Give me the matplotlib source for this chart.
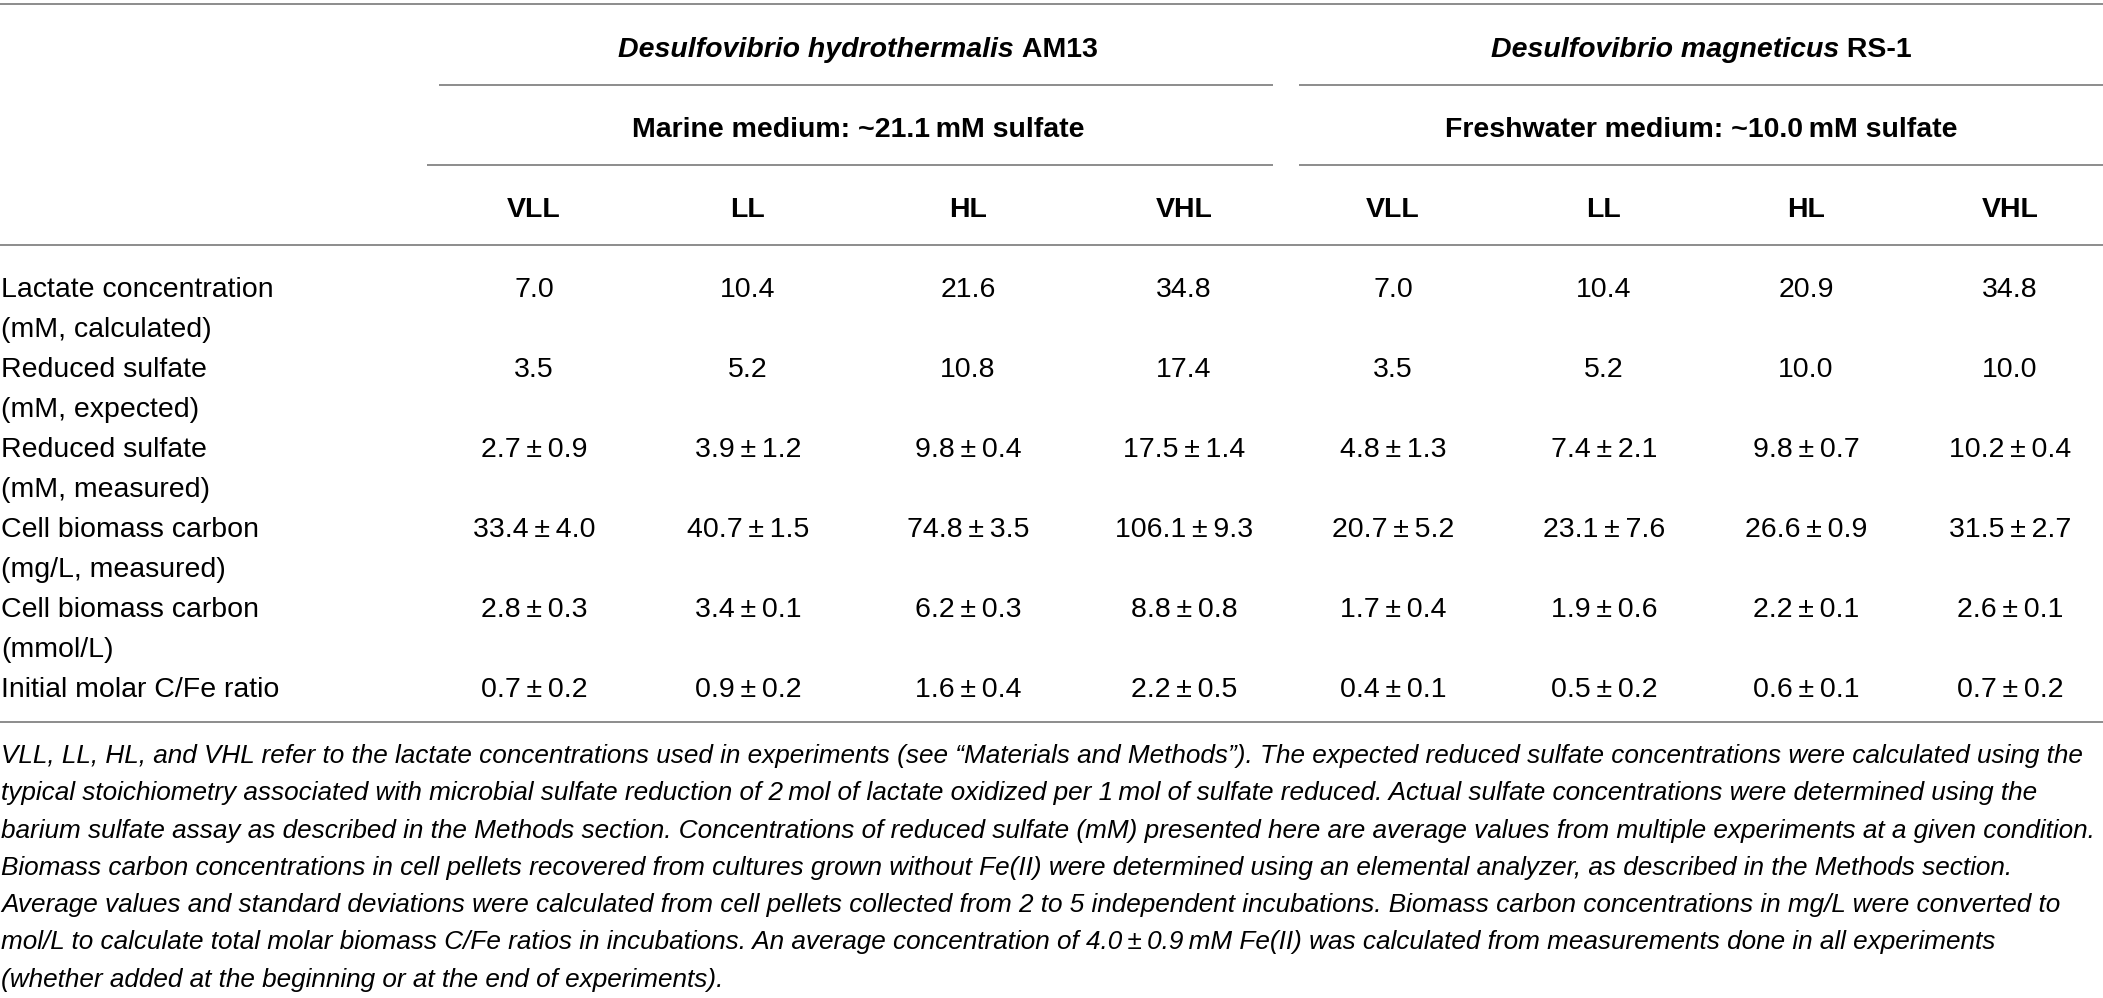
import matplotlib
matplotlib.use("Agg")
import matplotlib.pyplot as plt

# ---------------- data ----------------
species = ["Desulfovibrio hydrothermalis", "Desulfovibrio magneticus"]
strains = ["AM13", "RS-1"]
media = ["Marine medium: ~21.1\u2009mM sulfate", "Freshwater medium: ~10.0\u2009mM sulfate"]
conditions = ["VLL", "LL", "HL", "VHL"]

row_labels = [
    ("Lactate concentration", "(mM, calculated)"),
    ("Reduced sulfate", "(mM, expected)"),
    ("Reduced sulfate", "(mM, measured)"),
    ("Cell biomass carbon", "(mg/L, measured)"),
    ("Cell biomass carbon", "(mmol/L)"),
    ("Initial molar C/Fe ratio", ""),
]

# AM13 (marine) values
am13_lactate = [7.0, 10.4, 21.6, 34.8]
am13_sulf_exp = [3.5, 5.2, 10.8, 17.4]
am13_sulf_meas = [2.7, 3.9, 9.8, 17.5]
am13_sulf_meas_sd = [0.9, 1.2, 0.4, 1.4]
am13_biomass_mg = [33.4, 40.7, 74.8, 106.1]
am13_biomass_mg_sd = [4.0, 1.5, 3.5, 9.3]
am13_biomass_mmol = [2.8, 3.4, 6.2, 8.8]
am13_biomass_mmol_sd = [0.3, 0.1, 0.3, 0.8]
am13_cfe = [0.7, 0.9, 1.6, 2.2]
am13_cfe_sd = [0.2, 0.2, 0.4, 0.5]

# RS-1 (freshwater) values
rs1_lactate = [7.0, 10.4, 20.9, 34.8]
rs1_sulf_exp = [3.5, 5.2, 10.0, 10.0]
rs1_sulf_meas = [4.8, 7.4, 9.8, 10.2]
rs1_sulf_meas_sd = [1.3, 2.1, 0.7, 0.4]
rs1_biomass_mg = [20.7, 23.1, 26.6, 31.5]
rs1_biomass_mg_sd = [5.2, 7.6, 0.9, 2.7]
rs1_biomass_mmol = [1.7, 1.9, 2.2, 2.6]
rs1_biomass_mmol_sd = [0.4, 0.6, 0.1, 0.1]
rs1_cfe = [0.4, 0.5, 0.6, 0.7]
rs1_cfe_sd = [0.1, 0.2, 0.1, 0.2]

footnote_lines = [
    "VLL, LL, HL, and VHL refer to the lactate concentrations used in experiments (see \u201cMaterials and Methods\u201d). The expected reduced sulfate concentrations were calculated using the",
    "typical stoichiometry associated with microbial sulfate reduction of 2\u2009mol of lactate oxidized per 1\u2009mol of sulfate reduced. Actual sulfate concentrations were determined using the",
    "barium sulfate assay as described in the Methods section. Concentrations of reduced sulfate (mM) presented here are average values from multiple experiments at a given condition.",
    "Biomass carbon concentrations in cell pellets recovered from cultures grown without Fe(II) were determined using an elemental analyzer, as described in the Methods section.",
    "Average values and standard deviations were calculated from cell pellets collected from 2 to 5 independent incubations. Biomass carbon concentrations in mg/L were converted to",
    "mol/L to calculate total molar biomass C/Fe ratios in incubations. An average concentration of 4.0\u2009\u00b1\u20090.9\u2009mM Fe(II) was calculated from measurements done in all experiments",
    "(whether added at the beginning or at the end of experiments).",
]

# ---------------- layout / style ----------------
W, H = 2103, 998
FAM = ["Liberation Sans", "DejaVu Sans"]
FS = 20.5
LINE_COLOR = "#8c8c8c"
LW = 1.4

fig = plt.figure(figsize=(W / 100, H / 100), dpi=100)
ax = fig.add_axes([0, 0, 1, 1])
ax.set_xlim(0, W)
ax.set_ylim(H, 0)
ax.axis("off")
renderer = fig.canvas.get_renderer()

col_x = [[534, 748, 968, 1184], [1393, 1604, 1806, 2010]]
group_center = [858, 1701]


def fmt(m, sd=None):
    if sd is None:
        return f"{m:.1f}"
    return f"{m:.1f}\u2009\u00b1\u2009{sd:.1f}"


def hline(y, x0, x1):
    ax.plot([x0, x1], [y, y], color=LINE_COLOR, lw=LW, solid_capstyle="butt")


# rules
hline(4, 0, W)
hline(85, 439, 1273)
hline(85, 1299, W)
hline(165, 427, 1273)
hline(165, 1299, W)
hline(245, 0, W)
hline(722, 0, W)


def text_width(t):
    bb = t.get_window_extent(renderer=renderer)
    return bb.width


# species headers (bold italic + bold)
for g in range(2):
    t1 = ax.text(0, 57, species[g], fontsize=FS, family=FAM, weight="bold",
                 style="italic", ha="left", va="baseline")
    t2 = ax.text(0, 57, "\u00a0" + strains[g], fontsize=FS, family=FAM, weight="bold",
                 ha="left", va="baseline")
    w1 = text_width(t1)
    w2 = text_width(t2)
    x0 = group_center[g] - (w1 + w2) / 2
    t1.set_x(x0)
    t2.set_x(x0 + w1)
    ax.text(group_center[g], 137, media[g], fontsize=FS, family=FAM, weight="bold",
            ha="center", va="baseline")
    for c, name in enumerate(conditions):
        ax.text(col_x[g][c], 217, name, fontsize=FS, family=FAM, weight="bold",
                ha="center", va="baseline")

# body
am13_rows = [
    [fmt(v) for v in am13_lactate],
    [fmt(v) for v in am13_sulf_exp],
    [fmt(m, s) for m, s in zip(am13_sulf_meas, am13_sulf_meas_sd)],
    [fmt(m, s) for m, s in zip(am13_biomass_mg, am13_biomass_mg_sd)],
    [fmt(m, s) for m, s in zip(am13_biomass_mmol, am13_biomass_mmol_sd)],
    [fmt(m, s) for m, s in zip(am13_cfe, am13_cfe_sd)],
]
rs1_rows = [
    [fmt(v) for v in rs1_lactate],
    [fmt(v) for v in rs1_sulf_exp],
    [fmt(m, s) for m, s in zip(rs1_sulf_meas, rs1_sulf_meas_sd)],
    [fmt(m, s) for m, s in zip(rs1_biomass_mg, rs1_biomass_mg_sd)],
    [fmt(m, s) for m, s in zip(rs1_biomass_mmol, rs1_biomass_mmol_sd)],
    [fmt(m, s) for m, s in zip(rs1_cfe, rs1_cfe_sd)],
]

for r, (l1, l2) in enumerate(row_labels):
    yb = 297 + 80 * r
    ax.text(1, yb, l1, fontsize=FS, family=FAM, ha="left", va="baseline")
    if l2:
        ax.text(1, yb + 40, l2, fontsize=FS, family=FAM, ha="left", va="baseline")
    for g, rows in enumerate([am13_rows, rs1_rows]):
        for c in range(4):
            ax.text(col_x[g][c], yb, rows[r][c], fontsize=FS, family=FAM,
                    ha="center", va="baseline")

# footnote: fit widest line to the available width
probe = [ax.text(0, 0, s, fontsize=20, family=FAM, style="italic") for s in footnote_lines]
maxw = max(text_width(p) for p in probe)
for p in probe:
    p.remove()
ffs = 20 * 2086 / maxw
for i, s in enumerate(footnote_lines):
    ax.text(1, 763 + 37.3 * i, s, fontsize=ffs, family=FAM, style="italic",
            ha="left", va="baseline")

fig.savefig("out.png", dpi=100, facecolor="white")
